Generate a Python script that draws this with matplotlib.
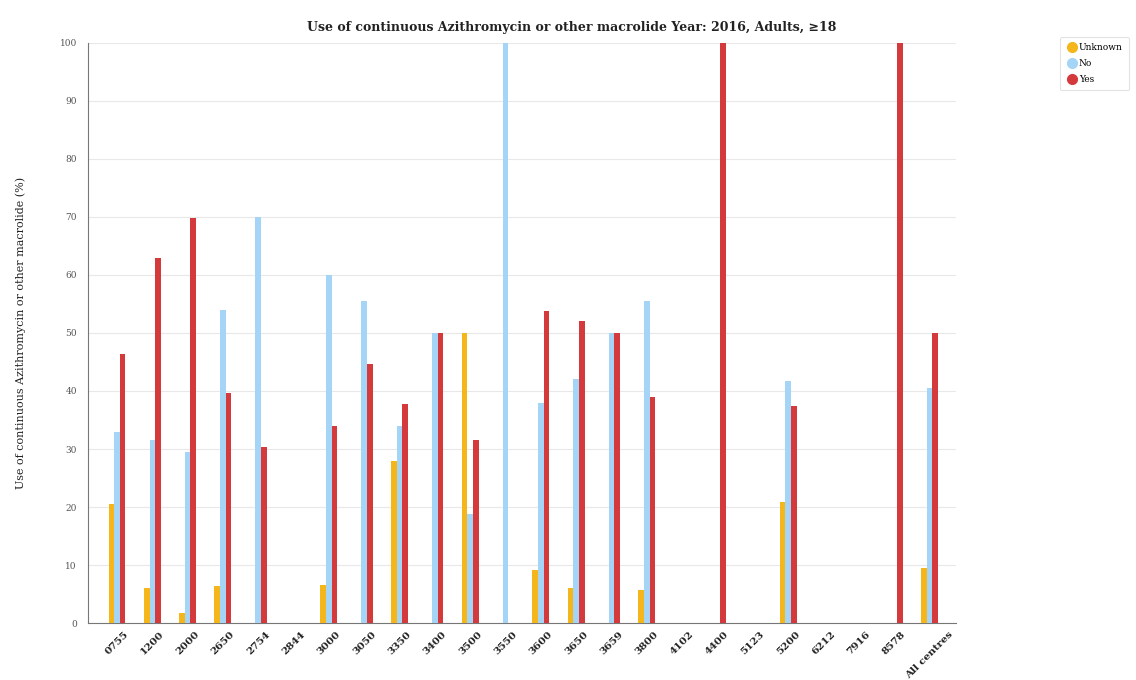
import matplotlib
matplotlib.use("Agg")
import matplotlib.pyplot as plt
import numpy as np
from matplotlib.lines import Line2D

centres = ["0755", "1200", "2000", "2650", "2754", "2844", "3000", "3050", "3350",
           "3400", "3500", "3550", "3600", "3650", "3659", "3800", "4102", "4400",
           "5123", "5200", "6212", "7916", "8578", "All centres"]
unknown = [20.5, 6, 1.7, 6.4, 0, 0, 6.5, 0, 28, 0, 50, 0, 9.1, 6, 0, 5.7, 0, 0, 0, 20.8, 0, 0, 0, 9.5]
no_vals = [33, 31.5, 29.5, 54, 70, 0, 60, 55.6, 34, 50, 18.8, 100, 38, 42, 50, 55.6, 0, 0, 0, 41.7, 0, 0, 0, 40.5]
yes_vals = [46.3, 63, 69.8, 39.7, 30.4, 0, 34, 44.6, 37.8, 50, 31.5, 0, 53.8, 52, 50, 38.9, 0, 100, 0, 37.5, 0, 0, 100, 50]
series_names = ["Unknown", "No", "Yes"]
colors = ["#F4B61A", "#A4D4F6", "#D43A3C"]

plt.rcParams['font.family'] = ['DejaVu Serif']

fig = plt.figure(figsize=(11.36, 6.8), dpi=100)
ax = fig.add_axes([0.0775, 0.0838, 0.764, 0.853])

x = np.arange(len(centres))
w = 0.16
for i, (vals, c) in enumerate(zip([unknown, no_vals, yes_vals], colors)):
    ax.bar(x + (i - 1) * w, vals, width=w, color=c, zorder=3)

ax.set_xlim(-0.82, len(centres) - 0.25)
ax.set_ylim(0, 100)
ax.set_yticks(np.arange(0, 101, 10))
ax.tick_params(axis='y', labelsize=6.5, labelcolor='#555555', length=0, pad=8)
ax.grid(axis='y', color='#e8e8e8', linewidth=0.8, zorder=0)
ax.set_xticks(x)
ax.set_xticklabels(centres, rotation=45, ha='center', va='top',
                   fontsize=7.5, fontweight='bold', color='#222222')
ax.tick_params(axis='x', length=0, pad=5)
for s in ['top', 'right']:
    ax.spines[s].set_visible(False)
ax.spines['left'].set_color('#777777')
ax.spines['bottom'].set_color('#777777')

ax.set_ylabel("Use of continuous Azithromycin or other macrolide (%)", fontsize=8, color='#222222', labelpad=24)
fig.text(0.503, 0.96, "Use of continuous Azithromycin or other macrolide Year: 2016, Adults, \u226518",
         ha='center', va='center', fontsize=9, fontweight='bold', color='#222222')

handles = [Line2D([0], [0], marker='o', color='w', markerfacecolor=c, markeredgecolor=c,
                  markersize=7, label=n) for n, c in zip(series_names, colors)]
leg = fig.legend(handles=handles, loc='upper left', bbox_to_anchor=(0.929, 0.952),
                 fontsize=6.5, frameon=True, handletextpad=0.2, handlelength=1.2,
                 borderpad=0.7, labelspacing=0.75)
leg.get_frame().set_edgecolor('#dddddd')
leg.get_frame().set_linewidth(0.8)

fig.savefig("out.png", dpi=100)
